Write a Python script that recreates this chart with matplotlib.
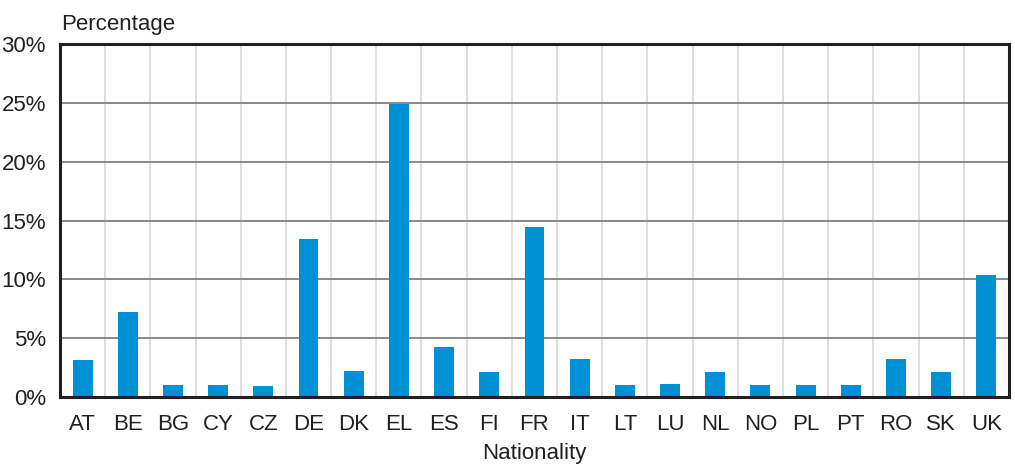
import matplotlib
matplotlib.use("Agg")
import matplotlib.pyplot as plt
import numpy as np

categories = ["AT", "BE", "BG", "CY", "CZ", "DE", "DK", "EL", "ES", "FI", "FR",
              "IT", "LT", "LU", "NL", "NO", "PL", "PT", "RO", "SK", "UK"]
values = [3.15, 7.2, 1.0, 1.0, 0.95, 13.4, 2.2, 24.9, 4.25, 2.15, 14.45,
          3.25, 1.05, 1.1, 2.1, 1.0, 1.0, 1.0, 3.2, 2.1, 10.4]
yticks = [0, 5, 10, 15, 20, 25, 30]
ytick_labels = ["0%", "5%", "10%", "15%", "20%", "25%", "30%"]

plt.rcParams['font.family'] = ['Liberation Sans', 'DejaVu Sans']

fig = plt.figure(figsize=(10.15, 4.65), dpi=100)
ax = fig.add_axes([0.0591, 0.1462, 0.9349, 0.7592])

x = np.arange(len(categories))
ax.bar(x, values, width=0.44, color="#0090D6", zorder=3)

ax.set_xlim(-0.5, len(categories) - 0.5)
ax.set_ylim(0, 30)
ax.set_yticks(yticks)
ax.set_yticklabels(ytick_labels)
ax.set_xticks(x)
ax.set_xticklabels(categories)

# vertical separators between categories
for b in np.arange(0.5, len(categories) - 0.5, 1):
    ax.axvline(b, color="#dcdcdc", lw=1.3, zorder=1)
for t in yticks[1:-1]:
    ax.axhline(t, color="#808080", lw=1.3, zorder=2)

for s in ax.spines.values():
    s.set_color("#231f20")
    s.set_linewidth(2.2)
    s.set_zorder(5)

ax.tick_params(axis="both", length=0, labelsize=16, colors="#231f20")
ax.tick_params(axis="y", pad=10)
ax.tick_params(axis="x", pad=12)
ax.set_xlabel("Nationality", fontsize=16, color="#231f20", labelpad=6)
fig.text(0.060, 0.948, "Percentage", fontsize=16, color="#231f20",
         ha="left", va="center")

fig.savefig("out.png", dpi=100)
